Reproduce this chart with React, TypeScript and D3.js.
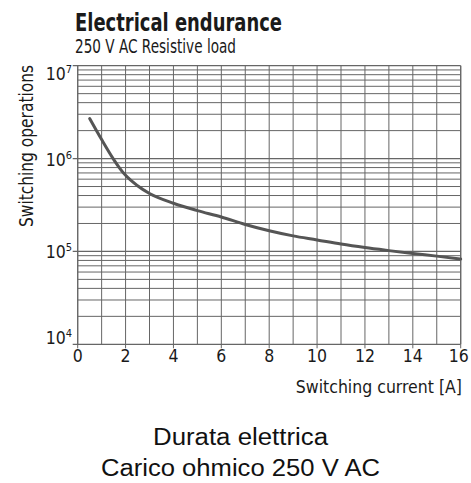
import React from "react";
import * as d3 from "d3";

const current = [0.5, 1, 1.5, 1.75, 2, 2.5, 3, 4, 5, 6, 7, 8, 9, 10, 11, 12, 13, 14, 15, 16];
const operations = [2.7e6, 1.6e6, 9.8e5, 7.9e5, 6.6e5, 5.1e5, 4.2e5, 3.3e5, 2.75e5, 2.35e5, 1.95e5, 1.67e5, 1.47e5, 1.33e5, 1.2e5, 1.1e5, 1.02e5, 9.5e4, 8.9e4, 8.3e4];
const xTicks = [0, 2, 4, 6, 8, 10, 12, 14, 16];
const yDecades = [4, 5, 6, 7];

const W = 471;
const H = 483;
const narrow = "'Liberation Sans Narrow', 'DejaVu Sans Condensed', 'Liberation Sans', sans-serif";
const regular = "'Liberation Sans', Arial, sans-serif";

export default function App() {
  const x = d3.scaleLinear().domain([0, 16]).range([77.7, 460.7]);
  const y = d3.scaleLog().domain([1e4, 1e7]).range([344.3, 65.7]);

  const minor: number[] = [];
  for (let e = 4; e < 7; e++) for (let m = 2; m <= 9; m++) minor.push(m * Math.pow(10, e));
  const vLines = d3.range(0, 17);

  const line = d3
    .line<number>()
    .x((_, i) => x(current[i]))
    .y((d) => y(d))
    .curve(d3.curveMonotoneX);

  const [x0, x1] = x.range();
  const [yb, yt] = y.range();
  const grid = "#666";

  return (
    <svg width={W} height={H} style={{ position: "absolute", left: 0, top: 0, background: "#fff" }}>
      <rect width={W} height={H} fill="#fff" />
      <text x={75} y={31} fontFamily={narrow} fontWeight="bold" fontSize={25.5} fill="#1a1a1a" textLength={207} lengthAdjust="spacingAndGlyphs">
        Electrical endurance
      </text>
      <text x={75} y={53} fontFamily={narrow} fontSize={19} fill="#1a1a1a" textLength={161} lengthAdjust="spacingAndGlyphs">
        250 V AC Resistive load
      </text>

      {/* grid */}
      {vLines.map((v) => (
        <line key={"v" + v} x1={x(v)} x2={x(v)} y1={yt} y2={yb} stroke={grid} strokeWidth={1} />
      ))}
      {minor.map((m) => (
        <line key={"m" + m} x1={x0} x2={x1} y1={y(m)} y2={y(m)} stroke={grid} strokeWidth={1} />
      ))}
      {yDecades.map((e) => (
        <line key={"d" + e} x1={x0 - 5} x2={x1} y1={y(Math.pow(10, e))} y2={y(Math.pow(10, e))} stroke={grid} strokeWidth={1.2} />
      ))}
      {xTicks.map((t) => (
        <line key={"xt" + t} x1={x(t)} x2={x(t)} y1={yb} y2={yb + 4} stroke={grid} strokeWidth={1} />
      ))}
      <line x1={x0} x2={x0} y1={yt} y2={yb} stroke={grid} strokeWidth={1.2} />
      <line x1={x1} x2={x1} y1={yt} y2={yb} stroke={grid} strokeWidth={1.2} />

      {/* curve */}
      <path d={line(operations) || ""} fill="none" stroke="#555" strokeWidth={3} strokeLinecap="round" />

      {/* y tick labels */}
      {yDecades.map((e) => {
        const yy = y(Math.pow(10, e));
        const base = e === 7 ? yy + 14 : e === 4 ? yy : yy + 7;
        return (
          <text key={"yl" + e} x={72} y={base} textAnchor="end" fontFamily={narrow} fontSize={17.5} fill="#1a1a1a">
            10
            <tspan dy={-7} fontSize={11}>
              {e}
            </tspan>
          </text>
        );
      })}

      {/* x tick labels */}
      {xTicks.map((t) => (
        <text key={"xl" + t} x={x(t) - (t === 16 ? 2 : 0)} y={362} textAnchor="middle" fontFamily={narrow} fontSize={17.5} fill="#1a1a1a">
          {t}
        </text>
      ))}

      <text
        transform={`translate(33, ${146}) rotate(-90)`}
        textAnchor="middle"
        fontFamily={narrow}
        fontSize={20}
        fill="#1a1a1a"
        textLength={162}
        lengthAdjust="spacingAndGlyphs"
      >
        Switching operations
      </text>
      <text x={462} y={393} textAnchor="end" fontFamily={narrow} fontSize={17.5} fill="#1a1a1a">
        Switching current [A]
      </text>

      <text x={153} y={445} fontFamily={regular} fontSize={23} fill="#111" textLength={175} lengthAdjust="spacingAndGlyphs">
        Durata elettrica
      </text>
      <text x={101} y={476} fontFamily={regular} fontSize={23} fill="#111" textLength={279} lengthAdjust="spacingAndGlyphs">
        Carico ohmico 250 V AC
      </text>
    </svg>
  );
}
